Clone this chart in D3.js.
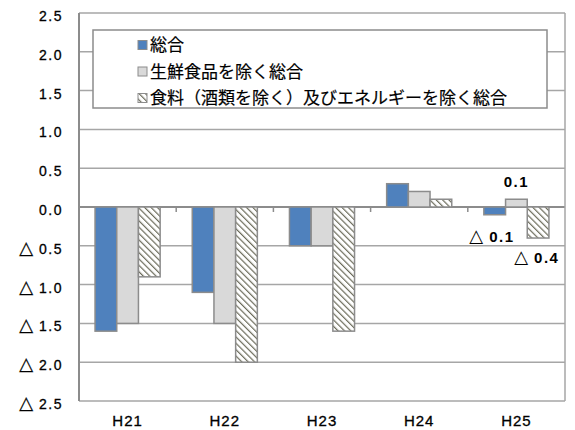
<!DOCTYPE html>
<html>
<head>
<meta charset="utf-8">
<script src="https://cdn.jsdelivr.net/npm/d3@7"></script>
<style>
  body { margin: 0; background: #fff; }
  svg { display: block; }
</style>
</head>
<body>
<svg id="chart" width="575" height="430"></svg>
<script>
// data
const years = ["H21", "H22", "H23", "H24", "H25"];
const seriesNames = ["総合", "生鮮食品を除く総合", "食料（酒類を除く）及びエネルギーを除く総合"];
const sogo = [-1.6, -1.1, -0.5, 0.3, -0.1];
const seisenNozoku = [-1.5, -1.5, -0.5, 0.2, 0.1];
const shokuryoNozoku = [-0.9, -2.0, -1.6, 0.1, -0.4];
const yTicks = [2.5, 2.0, 1.5, 1.0, 0.5, 0.0, -0.5, -1.0, -1.5, -2.0, -2.5];

const svg = d3.select("#chart");
const plotL = 79, plotR = 565, plotT = 13, plotB = 401;
const numFont = "Liberation Sans, Arial, sans-serif";
const jpFont = "Noto Sans CJK JP, sans-serif";

const x = d3.scaleBand().domain(years).range([plotL, plotR]).paddingInner(0).paddingOuter(0);
const y = d3.scaleLinear().domain([-2.5, 2.5]).range([plotB, plotT]);
const inner = d3.scaleBand().domain([0, 1, 2]).range([0, x.bandwidth()]).paddingOuter(0.74).paddingInner(0);

// negative numbers are written with a triangle
function writeNum(sel, v) {
  if (v < 0) {
    sel.append("tspan").attr("font-family", "DejaVu Sans").attr("font-weight", "bold")
      .attr("font-size", 18).attr("letter-spacing", 0).text("△");
    sel.append("tspan").attr("dx", 6).text(Math.abs(v).toFixed(1));
  } else {
    sel.append("tspan").text(v.toFixed(1));
  }
}

// hatch pattern
const defs = svg.append("defs");
const pat = defs.append("pattern")
  .attr("id", "hatch")
  .attr("patternUnits", "userSpaceOnUse")
  .attr("width", 4.5).attr("height", 4.5)
  .attr("patternTransform", "rotate(-45)");
pat.append("rect").attr("width", 4.5).attr("height", 4.5).attr("fill", "#fff");
pat.append("line").attr("x1", 0).attr("y1", 0).attr("x2", 0).attr("y2", 4.5)
  .attr("stroke", "#6b6b5a").attr("stroke-width", 2.4);

const fills = ["#4f81bd", "#d9d9d9", "url(#hatch)"];
const series = [sogo, seisenNozoku, shokuryoNozoku];

// gridlines
svg.append("g").selectAll("line").data(yTicks).join("line")
  .attr("x1", plotL).attr("x2", plotR)
  .attr("y1", d => y(d)).attr("y2", d => y(d))
  .attr("stroke", d => d === 0 ? "#8c8c8c" : "#a6a6a6")
  .attr("stroke-width", d => d === 0 ? 2 : 1.5);

// frame sides
svg.append("line").attr("x1", plotL).attr("x2", plotL).attr("y1", plotT).attr("y2", plotB)
  .attr("stroke", "#8c8c8c").attr("stroke-width", 2);
svg.append("line").attr("x1", plotR).attr("x2", plotR).attr("y1", plotT).attr("y2", plotB)
  .attr("stroke", "#a6a6a6").attr("stroke-width", 1.5);

// category tick marks on zero line
svg.append("g").selectAll("line").data(years.slice(1)).join("line")
  .attr("x1", d => x(d)).attr("x2", d => x(d))
  .attr("y1", y(0)).attr("y2", y(0) + 5)
  .attr("stroke", "#8c8c8c").attr("stroke-width", 1.5);

// bars
series.forEach((vals, si) => {
  svg.append("g").selectAll("rect").data(vals).join("rect")
    .attr("x", (d, i) => x(years[i]) + inner(si))
    .attr("width", inner.bandwidth())
    .attr("y", d => y(Math.max(0, d)))
    .attr("height", d => Math.abs(y(d) - y(0)))
    .attr("fill", fills[si])
    .attr("stroke", "#8c8c8c")
    .attr("stroke-width", 1.5);
});

// y tick labels
svg.append("g").selectAll("text").data(yTicks).join("text")
  .attr("x", 63).attr("y", d => y(d) + 3)
  .attr("dy", "0.36em")
  .attr("text-anchor", "end")
  .attr("font-family", numFont)
  .attr("font-size", 14)
  .attr("letter-spacing", 1.5)
  .attr("fill", "#000").attr("stroke", "#000").attr("stroke-width", 0.3)
  .each(function (d) { writeNum(d3.select(this), d); });

// x labels
svg.append("g").selectAll("text").data(years).join("text")
  .attr("x", d => x(d) + x.bandwidth() / 2).attr("y", 426)
  .attr("text-anchor", "middle")
  .attr("font-family", numFont)
  .attr("font-size", 15)
  .attr("letter-spacing", 1)
  .attr("fill", "#000").attr("stroke", "#000").attr("stroke-width", 0.3)
  .text(d => d);

// data labels for H25
const last = years.length - 1;
const lab = svg.append("g")
  .attr("font-family", numFont)
  .attr("font-size", 15).attr("font-weight", "bold")
  .attr("letter-spacing", 1.5).attr("fill", "#000");
lab.append("text")
  .attr("x", x(years[last]) + inner(1) + inner.bandwidth() / 2)
  .attr("y", y(seisenNozoku[last]) - 12)
  .attr("text-anchor", "middle")
  .call(writeNum, seisenNozoku[last]);
lab.append("text")
  .attr("x", x(years[last]) + inner(0) + inner.bandwidth() + 9)
  .attr("y", y(sogo[last]) + 27)
  .attr("text-anchor", "end")
  .call(writeNum, sogo[last]);
lab.append("text")
  .attr("x", x(years[last]) + inner(2) - 13)
  .attr("y", y(shokuryoNozoku[last]) + 25)
  .attr("text-anchor", "start")
  .call(writeNum, shokuryoNozoku[last]);

// legend
const lg = svg.append("g");
lg.append("rect").attr("x", 93).attr("y", 30).attr("width", 454).attr("height", 78)
  .attr("fill", "#fff").attr("stroke", "#8c8c8c").attr("stroke-width", 1.5);
const ly = d3.scalePoint().domain(seriesNames).range([45, 98]);
seriesNames.forEach((name, i) => {
  lg.append("rect")
    .attr("x", 138).attr("y", ly(name) - 4.5).attr("width", 9).attr("height", 9)
    .attr("fill", fills[i]).attr("stroke", "#8c8c8c").attr("stroke-width", 1);
  lg.append("text")
    .attr("x", 150).attr("y", ly(name)).attr("dy", "0.36em")
    .attr("font-family", jpFont)
    .attr("font-size", 17).attr("fill", "#000")
    .attr("stroke", "#000").attr("stroke-width", 0.2)
    .text(name);
});
</script>
</body>
</html>
